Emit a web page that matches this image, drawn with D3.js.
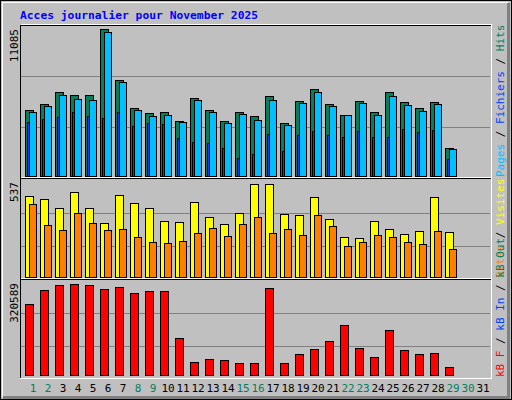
<!DOCTYPE html>
<html><head><meta charset="utf-8">
<script src="https://cdn.jsdelivr.net/npm/d3@7"></script>
<style>body{margin:0;background:#fff}</style>
</head><body><div id="main"></div>
<script>
const days = d3.range(1, 32);
const weekend = [1, 2, 8, 9, 15, 16, 22, 23, 29, 30];
const hits = [4977,5430,6334,6108,6108,11085,7239,5128,4751,4826,4147,5882,4977,4147,4826,4524,6033,3997,5656,6561,5430,4600,5656,4826,6334,5580,5128,5580,2111];
const files = [4826,5279,6108,5806,5731,10859,7088,4977,4524,4600,4072,5731,4826,3997,4675,4223,5731,3846,5505,6334,5279,4600,5505,4600,6033,5354,4902,5430,2036];
const pages = [4072,4298,4449,4826,4524,4374,4826,3771,3997,3921,2865,2564,2488,2111,1357,1659,3167,1885,3092,3393,3092,2941,3393,2941,2941,3544,3318,3469,1282];
const visits = [467,450,397,490,397,310,473,426,397,321,316,432,345,304,368,537,537,362,356,461,333,228,222,321,275,246,263,461,257];
const sites = [420,298,269,368,310,269,275,228,199,193,205,252,281,234,304,345,252,275,240,356,292,176,199,240,228,199,188,263,158];
const kbytes = [250133,299455,317070,320589,317070,302978,310024,288886,295932,295932,130351,45799,56368,52845,42276,42276,306501,42276,73983,91598,119782,176150,95121,63414,158535,88075,73983,77506,28184];

const W = 512, H = 400;
const font = "'DejaVu Sans Mono', monospace";
const svg = d3.select("#main").append("svg").attr("width", W).attr("height", H)
  .style("display", "block").attr("shape-rendering", "crispEdges");

// background & bevel
svg.append("rect").attr("x", 0.5).attr("y", 0.5).attr("width", W - 1).attr("height", H - 1)
  .attr("fill", "#c0c0c0").attr("stroke", "#000");
svg.append("path").attr("d", "M2.5,397V2.5H508").attr("fill", "none").attr("stroke", "#fff");
svg.append("path").attr("d", "M508.5,3V397.5H3").attr("fill", "none").attr("stroke", "#808080").attr("stroke-width", 3);

svg.append("text").attr("x", 20).attr("y", 19).text("Acces journalier pour November 2025")
  .attr("font-family", font).attr("font-weight", "bold").attr("font-size", 11.3).attr("fill", "#0000ff");

const x = d3.scaleBand().domain(days).range([25, 25 + 31 * 15]);

const panels = [
  { top: 25, bottom: 178, y: d3.scaleLinear().domain([0, 11085]).range([176, 29]), label: "11085", grid: [127, 76] },
  { top: 178, bottom: 279, y: d3.scaleLinear().domain([0, 537]).range([276.5, 184.3]), label: "537", grid: [246, 213] },
  { top: 279, bottom: 378, y: d3.scaleLinear().domain([0, 320589]).range([375.3, 284.3]), label: "320589", grid: [346, 313] }
];

panels.forEach(p => {
  p.grid.forEach(g => svg.append("line").attr("x1", 21).attr("x2", 490).attr("y1", g + 0.5).attr("y2", g + 0.5).attr("stroke", "#808080"));
  svg.append("text").attr("transform", `translate(18,${p.top + 4}) rotate(-90)`)
    .attr("text-anchor", "end").attr("font-family", font).attr("font-size", 11).text(p.label);
});

function bars(data, py, off, w, color) {
  svg.append("g").selectAll("rect").data(data).enter().append("rect")
    .attr("x", (d, i) => x(i + 1) + off + 0.5)
    .attr("y", d => Math.round(py(d)) + 0.5)
    .attr("width", w)
    .attr("height", d => Math.round(py(0)) - Math.round(py(d)))
    .attr("fill", color).attr("stroke", "#000");
}
bars(hits, panels[0].y, 0, 8, "#00805c");
bars(files, panels[0].y, 4, 7, "#00c0ff");
bars(pages, panels[0].y, 2, 2, "#0040ff");
bars(visits, panels[1].y, 0, 8, "#ffff00");
bars(sites, panels[1].y, 4, 7, "#ff8000");
bars(kbytes, panels[2].y, 0, 8, "#ff0000");

// frames
svg.append("path").attr("d", "M20.5,378V25.5H491").attr("fill", "none").attr("stroke", "#000");
svg.append("path").attr("d", "M21,24.5H491.5V378.5H20").attr("fill", "none").attr("stroke", "#fff");
[178, 279].forEach(yy => {
  svg.append("line").attr("x1", 21).attr("x2", 491).attr("y1", yy - 0.5).attr("y2", yy - 0.5).attr("stroke", "#fff");
  svg.append("line").attr("x1", 21).attr("x2", 491).attr("y1", yy + 0.5).attr("y2", yy + 0.5).attr("stroke", "#000");
});

// day labels
svg.append("g").selectAll("text").data(days).enter().append("text")
  .attr("x", d => x(d) + 8).attr("y", 392).attr("text-anchor", "middle")
  .attr("font-family", font).attr("font-size", 11)
  .attr("fill", d => weekend.includes(d) ? "#00805c" : "#000").text(d => d);

// side legends
function legend(yStart, parts) {
  const t = svg.append("text").attr("transform", `translate(504,${yStart}) rotate(-90)`)
    .attr("font-family", font).attr("font-size", 11);
  parts.forEach(([s, c]) => t.append("tspan").attr("fill", c).text(s));
}
legend(177, [["Pages", "#00c0ff"], [" / ", "#000"], ["Fichiers", "#0040ff"], [" / ", "#000"], ["Hits", "#00805c"]]);
legend(278, [["Sites", "#ff8000"], [" / ", "#000"], ["Visites", "#ffff00"]]);
legend(377, [["kB F", "#ff0000"], [" / ", "#000"], ["kB In", "#0040ff"], [" / ", "#000"], ["kB Out", "#00805c"]]);
</script></body></html>
